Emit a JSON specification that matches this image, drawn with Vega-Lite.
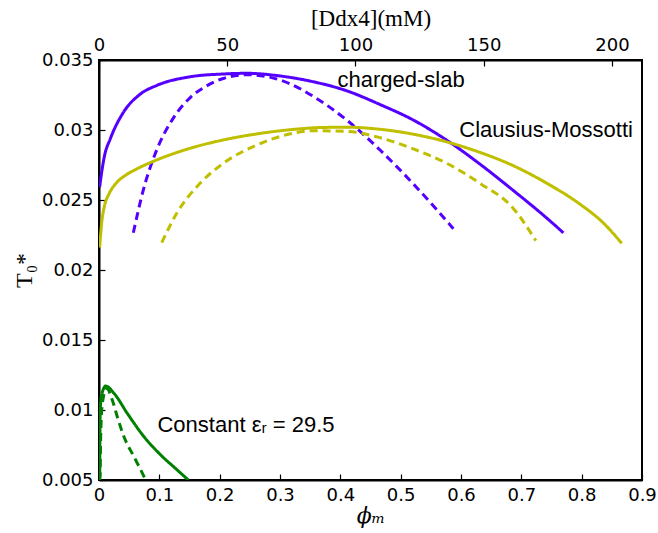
{
  "$schema": "https://vega.github.io/schema/vega-lite/v6.json",
  "width": 543,
  "height": 420,
  "autosize": {"type": "none"},
  "padding": {"left": 99, "top": 60, "right": 16, "bottom": 53},
  "background": "white",
  "config": {
    "view": {"stroke": "black", "strokeWidth": 2},
    "axis": {
      "domainColor": "black", "domainWidth": 2, "tickColor": "black", "tickWidth": 1.2,
      "labelFont": "DejaVu Sans", "labelFontSize": 18, "labelColor": "black",
      "grid": false, "titleColor": "black", "titleFontWeight": "normal", "zindex": 1
    }
  },
  "datasets": {
    "curves": [
      {"series": "cs-solid", "model": "charged-slab", "dash": "solid", "phi": 0.001, "T": 0.0259},
      {"series": "cs-solid", "model": "charged-slab", "dash": "solid", "phi": 0.0033, "T": 0.02664},
      {"series": "cs-solid", "model": "charged-slab", "dash": "solid", "phi": 0.0088, "T": 0.02809},
      {"series": "cs-solid", "model": "charged-slab", "dash": "solid", "phi": 0.019, "T": 0.0294},
      {"series": "cs-solid", "model": "charged-slab", "dash": "solid", "phi": 0.0403, "T": 0.03125},
      {"series": "cs-solid", "model": "charged-slab", "dash": "solid", "phi": 0.0680, "T": 0.03255},
      {"series": "cs-solid", "model": "charged-slab", "dash": "solid", "phi": 0.0956, "T": 0.03318},
      {"series": "cs-solid", "model": "charged-slab", "dash": "solid", "phi": 0.1508, "T": 0.03380},
      {"series": "cs-solid", "model": "charged-slab", "dash": "solid", "phi": 0.2055, "T": 0.03400},
      {"series": "cs-solid", "model": "charged-slab", "dash": "solid", "phi": 0.2448, "T": 0.03405},
      {"series": "cs-solid", "model": "charged-slab", "dash": "solid", "phi": 0.3000, "T": 0.03386},
      {"series": "cs-solid", "model": "charged-slab", "dash": "solid", "phi": 0.3547, "T": 0.03345},
      {"series": "cs-solid", "model": "charged-slab", "dash": "solid", "phi": 0.4106, "T": 0.03280},
      {"series": "cs-solid", "model": "charged-slab", "dash": "solid", "phi": 0.4658, "T": 0.03182},
      {"series": "cs-solid", "model": "charged-slab", "dash": "solid", "phi": 0.5210, "T": 0.03071},
      {"series": "cs-solid", "model": "charged-slab", "dash": "solid", "phi": 0.5764, "T": 0.02927},
      {"series": "cs-solid", "model": "charged-slab", "dash": "solid", "phi": 0.6315, "T": 0.02756},
      {"series": "cs-solid", "model": "charged-slab", "dash": "solid", "phi": 0.6867, "T": 0.02568},
      {"series": "cs-solid", "model": "charged-slab", "dash": "solid", "phi": 0.7421, "T": 0.02371},
      {"series": "cs-solid", "model": "charged-slab", "dash": "solid", "phi": 0.7696, "T": 0.02266},

      {"series": "cs-dash", "model": "charged-slab", "dash": "dashed", "phi": 0.0569, "T": 0.02266},
      {"series": "cs-dash", "model": "charged-slab", "dash": "dashed", "phi": 0.0734, "T": 0.02571},
      {"series": "cs-dash", "model": "charged-slab", "dash": "dashed", "phi": 0.0956, "T": 0.02857},
      {"series": "cs-dash", "model": "charged-slab", "dash": "dashed", "phi": 0.1232, "T": 0.03085},
      {"series": "cs-dash", "model": "charged-slab", "dash": "dashed", "phi": 0.1508, "T": 0.03230},
      {"series": "cs-dash", "model": "charged-slab", "dash": "dashed", "phi": 0.1785, "T": 0.03315},
      {"series": "cs-dash", "model": "charged-slab", "dash": "dashed", "phi": 0.2060, "T": 0.03368},
      {"series": "cs-dash", "model": "charged-slab", "dash": "dashed", "phi": 0.2448, "T": 0.03395},
      {"series": "cs-dash", "model": "charged-slab", "dash": "dashed", "phi": 0.2800, "T": 0.03380},
      {"series": "cs-dash", "model": "charged-slab", "dash": "dashed", "phi": 0.3166, "T": 0.03330},
      {"series": "cs-dash", "model": "charged-slab", "dash": "dashed", "phi": 0.3552, "T": 0.03240},
      {"series": "cs-dash", "model": "charged-slab", "dash": "dashed", "phi": 0.4106, "T": 0.03071},
      {"series": "cs-dash", "model": "charged-slab", "dash": "dashed", "phi": 0.4658, "T": 0.02857},
      {"series": "cs-dash", "model": "charged-slab", "dash": "dashed", "phi": 0.5210, "T": 0.02615},
      {"series": "cs-dash", "model": "charged-slab", "dash": "dashed", "phi": 0.5873, "T": 0.02295},

      {"series": "cm-solid", "model": "Clausius-Mossotti", "dash": "solid", "phi": 0.001, "T": 0.0216},
      {"series": "cm-solid", "model": "Clausius-Mossotti", "dash": "solid", "phi": 0.005, "T": 0.02357},
      {"series": "cm-solid", "model": "Clausius-Mossotti", "dash": "solid", "phi": 0.0088, "T": 0.02452},
      {"series": "cm-solid", "model": "Clausius-Mossotti", "dash": "solid", "phi": 0.0171, "T": 0.02548},
      {"series": "cm-solid", "model": "Clausius-Mossotti", "dash": "solid", "phi": 0.0282, "T": 0.02619},
      {"series": "cm-solid", "model": "Clausius-Mossotti", "dash": "solid", "phi": 0.0448, "T": 0.02679},
      {"series": "cm-solid", "model": "Clausius-Mossotti", "dash": "solid", "phi": 0.0613, "T": 0.02719},
      {"series": "cm-solid", "model": "Clausius-Mossotti", "dash": "solid", "phi": 0.0956, "T": 0.02786},
      {"series": "cm-solid", "model": "Clausius-Mossotti", "dash": "solid", "phi": 0.1508, "T": 0.02869},
      {"series": "cm-solid", "model": "Clausius-Mossotti", "dash": "solid", "phi": 0.2060, "T": 0.02929},
      {"series": "cm-solid", "model": "Clausius-Mossotti", "dash": "solid", "phi": 0.2614, "T": 0.02972},
      {"series": "cm-solid", "model": "Clausius-Mossotti", "dash": "solid", "phi": 0.3166, "T": 0.03002},
      {"series": "cm-solid", "model": "Clausius-Mossotti", "dash": "solid", "phi": 0.3700, "T": 0.03018},
      {"series": "cm-solid", "model": "Clausius-Mossotti", "dash": "solid", "phi": 0.4106, "T": 0.03020},
      {"series": "cm-solid", "model": "Clausius-Mossotti", "dash": "solid", "phi": 0.4658, "T": 0.03005},
      {"series": "cm-solid", "model": "Clausius-Mossotti", "dash": "solid", "phi": 0.5210, "T": 0.02970},
      {"series": "cm-solid", "model": "Clausius-Mossotti", "dash": "solid", "phi": 0.5764, "T": 0.02915},
      {"series": "cm-solid", "model": "Clausius-Mossotti", "dash": "solid", "phi": 0.6315, "T": 0.02840},
      {"series": "cm-solid", "model": "Clausius-Mossotti", "dash": "solid", "phi": 0.6867, "T": 0.02745},
      {"series": "cm-solid", "model": "Clausius-Mossotti", "dash": "solid", "phi": 0.7421, "T": 0.02620},
      {"series": "cm-solid", "model": "Clausius-Mossotti", "dash": "solid", "phi": 0.7973, "T": 0.02470},
      {"series": "cm-solid", "model": "Clausius-Mossotti", "dash": "solid", "phi": 0.8350, "T": 0.02340},
      {"series": "cm-solid", "model": "Clausius-Mossotti", "dash": "solid", "phi": 0.8664, "T": 0.02191},

      {"series": "cm-dash", "model": "Clausius-Mossotti", "dash": "dashed", "phi": 0.1039, "T": 0.02195},
      {"series": "cm-dash", "model": "Clausius-Mossotti", "dash": "dashed", "phi": 0.1288, "T": 0.02405},
      {"series": "cm-dash", "model": "Clausius-Mossotti", "dash": "dashed", "phi": 0.1674, "T": 0.02619},
      {"series": "cm-dash", "model": "Clausius-Mossotti", "dash": "dashed", "phi": 0.2060, "T": 0.02762},
      {"series": "cm-dash", "model": "Clausius-Mossotti", "dash": "dashed", "phi": 0.2614, "T": 0.02893},
      {"series": "cm-dash", "model": "Clausius-Mossotti", "dash": "dashed", "phi": 0.3055, "T": 0.02960},
      {"series": "cm-dash", "model": "Clausius-Mossotti", "dash": "dashed", "phi": 0.3552, "T": 0.02995},
      {"series": "cm-dash", "model": "Clausius-Mossotti", "dash": "dashed", "phi": 0.4106, "T": 0.02990},
      {"series": "cm-dash", "model": "Clausius-Mossotti", "dash": "dashed", "phi": 0.4658, "T": 0.02945},
      {"series": "cm-dash", "model": "Clausius-Mossotti", "dash": "dashed", "phi": 0.5210, "T": 0.02865},
      {"series": "cm-dash", "model": "Clausius-Mossotti", "dash": "dashed", "phi": 0.5764, "T": 0.02762},
      {"series": "cm-dash", "model": "Clausius-Mossotti", "dash": "dashed", "phi": 0.6315, "T": 0.02619},
      {"series": "cm-dash", "model": "Clausius-Mossotti", "dash": "dashed", "phi": 0.6867, "T": 0.02440},
      {"series": "cm-dash", "model": "Clausius-Mossotti", "dash": "dashed", "phi": 0.7240, "T": 0.02210},

      {"series": "ce-solid", "model": "Constant", "dash": "solid", "phi": 0.0005, "T": 0.0050},
      {"series": "ce-solid", "model": "Constant", "dash": "solid", "phi": 0.0012, "T": 0.00524},
      {"series": "ce-solid", "model": "Constant", "dash": "solid", "phi": 0.0017, "T": 0.00929},
      {"series": "ce-solid", "model": "Constant", "dash": "solid", "phi": 0.0038, "T": 0.01095},
      {"series": "ce-solid", "model": "Constant", "dash": "solid", "phi": 0.0111, "T": 0.01171},
      {"series": "ce-solid", "model": "Constant", "dash": "solid", "phi": 0.0249, "T": 0.01119},
      {"series": "ce-solid", "model": "Constant", "dash": "solid", "phi": 0.0469, "T": 0.00976},
      {"series": "ce-solid", "model": "Constant", "dash": "solid", "phi": 0.0746, "T": 0.00809},
      {"series": "ce-solid", "model": "Constant", "dash": "solid", "phi": 0.1023, "T": 0.00679},
      {"series": "ce-solid", "model": "Constant", "dash": "solid", "phi": 0.1298, "T": 0.00571},
      {"series": "ce-solid", "model": "Constant", "dash": "solid", "phi": 0.1480, "T": 0.0050},

      {"series": "ce-dash", "model": "Constant", "dash": "dashed", "phi": 0.0007, "T": 0.0050},
      {"series": "ce-dash", "model": "Constant", "dash": "dashed", "phi": 0.0017, "T": 0.00524},
      {"series": "ce-dash", "model": "Constant", "dash": "dashed", "phi": 0.0028, "T": 0.00809},
      {"series": "ce-dash", "model": "Constant", "dash": "dashed", "phi": 0.0055, "T": 0.01048},
      {"series": "ce-dash", "model": "Constant", "dash": "dashed", "phi": 0.0128, "T": 0.01155},
      {"series": "ce-dash", "model": "Constant", "dash": "dashed", "phi": 0.0220, "T": 0.01071},
      {"series": "ce-dash", "model": "Constant", "dash": "dashed", "phi": 0.0303, "T": 0.00952},
      {"series": "ce-dash", "model": "Constant", "dash": "dashed", "phi": 0.0414, "T": 0.00809},
      {"series": "ce-dash", "model": "Constant", "dash": "dashed", "phi": 0.0580, "T": 0.00666},
      {"series": "ce-dash", "model": "Constant", "dash": "dashed", "phi": 0.0746, "T": 0.00524},
      {"series": "ce-dash", "model": "Constant", "dash": "dashed", "phi": 0.0771, "T": 0.0050}
    ],
    "labels": [
      {"text": "charged-slab", "phi": 0.5006, "T": 0.0336},
      {"text": "Clausius-Mossotti", "phi": 0.741, "T": 0.0300},
      {"text": "Constant εᵣ = 29.5", "phi": 0.2437, "T": 0.0089}
    ],
    "topaxis": [
      {"mM": 0},
      {"mM": 211.7}
    ]
  },
  "layer": [
    {
      "layer": [
        {
          "data": {"name": "curves"},
          "mark": {"type": "line", "strokeWidth": 3, "interpolate": "monotone", "clip": true},
          "encoding": {
            "x": {
              "field": "phi", "type": "quantitative",
              "scale": {"domain": [0, 0.9], "nice": false, "zero": false},
              "axis": {
                "orient": "bottom", "values": [0, 0.1, 0.2, 0.3, 0.4, 0.5, 0.6, 0.7, 0.8, 0.9],
                "labelExpr": "datum.value == 0 ? '0' : format(datum.value, '.1f')",
                "tickSize": {"expr": "-6"}, "labelPadding": 12, "labelFlush": false,
                "title": "ϕₘ", "titleFont": "DejaVu Serif", "titleFontStyle": "italic",
                "titleFontSize": 22, "titlePadding": 1
              }
            },
            "y": {
              "field": "T", "type": "quantitative",
              "scale": {"domain": [0.005, 0.035], "nice": false, "zero": false},
              "axis": {
                "values": [0.005, 0.01, 0.015, 0.02, 0.025, 0.03, 0.035],
                "labelExpr": "format(datum.value, '.3~f')",
                "tickSize": {"expr": "-6"}, "labelPadding": 12, "labelFlush": false,
                "title": "T₀*", "titleFont": "Liberation Serif", "titleFontSize": 24, "titlePadding": 5
              }
            },
            "detail": {"field": "series"},
            "color": {
              "field": "model", "type": "nominal", "legend": null,
              "scale": {"domain": ["charged-slab", "Clausius-Mossotti", "Constant"], "range": ["#5500ff", "#bfbf00", "#008000"]}
            },
            "strokeDash": {
              "field": "dash", "type": "nominal", "legend": null,
              "scale": {"domain": ["solid", "dashed"], "range": [[1, 0], [8, 5]]}
            }
          }
        },
        {
          "data": {"name": "labels"},
          "mark": {"type": "text", "font": "Liberation Sans", "fontSize": 22, "align": "center", "baseline": "middle", "color": "black"},
          "encoding": {
            "x": {"field": "phi", "type": "quantitative"},
            "y": {"field": "T", "type": "quantitative"},
            "text": {"field": "text"}
          }
        }
      ]
    },
    {
      "data": {"name": "topaxis"},
      "mark": {"type": "point", "opacity": 0},
      "encoding": {
        "x": {
          "field": "mM", "type": "quantitative",
          "scale": {"domain": [0, 211.7], "nice": false, "zero": false},
          "axis": {
            "orient": "top", "values": [0, 50, 100, 150, 200],
            "tickSize": {"expr": "-6"}, "labelPadding": 12, "labelFlush": false,
            "title": "[Ddx4](mM)", "titleFont": "Liberation Serif", "titleFontSize": 23, "titlePadding": 6
          }
        }
      }
    }
  ],
  "resolve": {"scale": {"x": "independent"}}
}
